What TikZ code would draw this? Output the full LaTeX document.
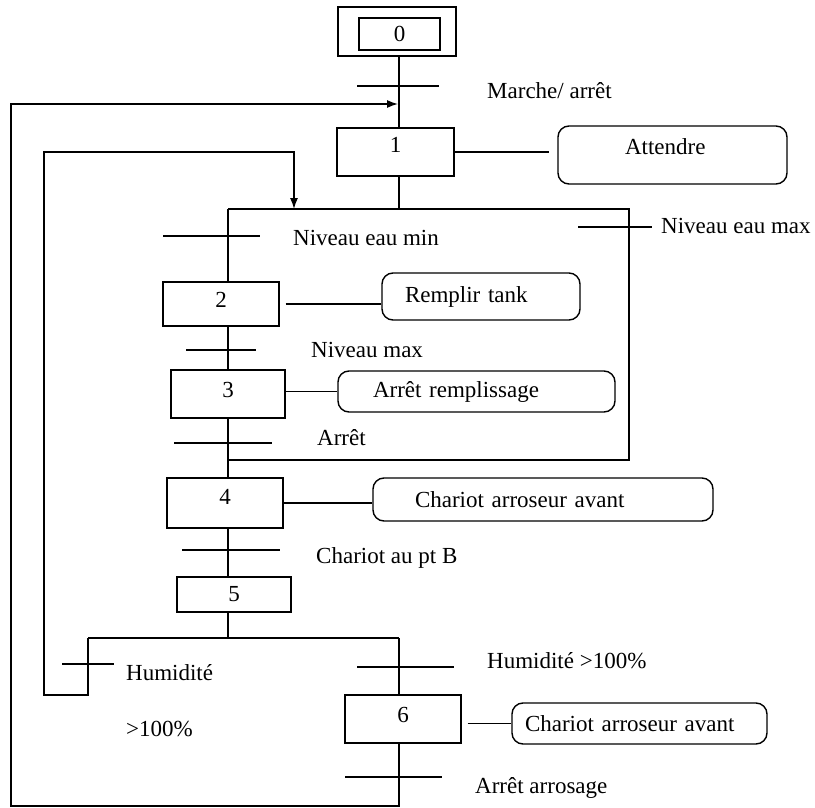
\documentclass[tikz,border=0pt]{standalone}
\usepackage{fontspec}
\setmainfont{Liberation Serif}
\usepackage{tikz}
\usetikzlibrary{arrows.meta}

\begin{document}
\begin{tikzpicture}[x=1pt, y=-1pt, line join=miter,
    every node/.style={font=\fontsize{23}{26}\selectfont},
    trait/.style={black, line width=1.4pt},
    etape/.style={draw, line width=1.4pt, inner sep=0pt},
    action/.style={draw, line width=1.4pt, rounded corners=11pt, align=left, inner ysep=0pt},
    recept/.style={anchor=base west, inner sep=0pt},
    retour/.style={trait, -{Latex[length=11pt, width=8pt]}}]

    \useasboundingbox (0,0) rectangle (815,808);

    % =======================================================
    % STEPS AND ACTIONS
    % =======================================================

    % 1. Initial step (double box)
    \node[etape, minimum width=118pt, minimum height=49pt] (s0o) at (397,31.5) {};
    \node[etape, minimum width=81pt, minimum height=32pt] (s0) at (399.5,34) {0};

    % 2. Other steps
    \node[etape, minimum width=117pt, minimum height=48pt, text depth=14pt] (s1) at (395.5,152) {1};
    \node[etape, minimum width=116pt, minimum height=44pt, text depth=8pt] (s2) at (221,304) {2};
    \node[etape, minimum width=114pt, minimum height=48pt, text depth=8pt] (s3) at (228,394) {3};
    \node[etape, minimum width=116pt, minimum height=50pt, text depth=12pt] (s4) at (225,503) {4};
    \node[etape, minimum width=114pt, minimum height=35pt] (s5) at (234,594.5) {5};
    \node[etape, minimum width=116pt, minimum height=48pt, text depth=9pt] (s6) at (403,719) {6};

    % 3. Actions (rounded boxes)
    \node[action, text width=95pt, inner xsep=67pt, minimum height=58pt, text depth=16pt] (a1) at (672.5,155) {Attendre};
    \node[action, text width=152pt, inner xsep=23pt, minimum height=47pt] (a2) at (481,296.5) {Remplir tank};
    \node[action, text width=207pt, inner xsep=35pt, minimum height=41pt] (a3) at (476.5,391.5) {Arrêt remplissage};
    \node[action, text width=256pt, inner xsep=42pt, minimum height=43pt] (a4) at (543,499.5) {Chariot arroseur avant};
    \node[action, text width=229pt, inner xsep=13pt, minimum height=41pt] (a6) at (639.5,723.5) {Chariot arroseur avant};

    % =======================================================
    % LINKS
    % =======================================================
    \coordinate (colA) at (399,0);
    \coordinate (colB) at (228,0);
    \coordinate (boxNW) at (228,209);
    \coordinate (boxSE) at (629,460);
    \coordinate (selL) at (88,638);
    \coordinate (retL) at (44,695);
    \coordinate (loopA) at (294,209);
    \coordinate (bas) at (11,806);
    \coordinate (loopB) at (398,104);

    % 4. Main column
    \draw[trait] (colA |- s0o.south) -- (colA |- s1.north);
    \draw[trait] (colA |- s1.south) -- (colA |- boxNW);
    \draw[trait] (boxNW) -- (boxNW -| boxSE) -- (boxSE) -- (boxSE -| boxNW);
    \draw[trait] (boxNW) -- (colB |- s2.north);
    \draw[trait] (colB |- s2.south) -- (colB |- s3.north);
    \draw[trait] (colB |- s3.south) -- (colB |- s4.north);
    \draw[trait] (colB |- s4.south) -- (colB |- s5.north);
    \draw[trait] (colB |- s5.south) -- (colB |- selL);

    % 5. Divergence
    \draw[trait] (selL) -- (colA |- selL);
    \draw[trait] (colA |- selL) -- (colA |- s6.north);

    % 6. Loop back arrows
    \draw[retour] (selL) -- (selL |- retL) -- (retL) -- (retL |- s1) -- (loopA |- s1) -- (loopA);
    \draw[retour] (colA |- s6.south) -- (colA |- bas) -- (bas) -- (bas |- loopB) -- (loopB);

    % 7. Step to action links
    \draw[trait, shorten >=8pt] (s1.east) -- (s1.east -| a1.west);
    \draw[trait] ([xshift=6pt]s2.east) -- (s2.east -| a2.west);
    \draw[trait] (a3.west -| s3.east) -- (a3.west);
    \draw[trait] (s4.east) -- (s4.east -| a4.west);
    \draw[trait] ([xshift=6pt]a6.west -| s6.east) -- (a6.west);

    % =======================================================
    % TRANSITIONS
    % =======================================================

    % 8. Bars
    \draw[trait] (357,86) -- (439,86);
    \draw[trait] (163,236) -- (260,236);
    \draw[trait] (578,227) -- (652,227);
    \draw[trait] (186,350) -- (256,350);
    \draw[trait] (174,443) -- (272,443);
    \draw[trait] (182,550) -- (280,550);
    \draw[trait] (62,664) -- (114,664);
    \draw[trait] (357,667) -- (454,667);
    \draw[trait] (345,777) -- (442,777);

    % 9. Receptivities
    \node[recept] (r1) at (487,99) {Marche/ arrêt};
    \node[recept] (r2) at (293,245) {Niveau eau min};
    \node[recept] (r2b) at (661,233) {Niveau eau max};
    \node[recept] (r3) at (311,357) {Niveau max};
    \node[recept] (r4) at (317,445) {Arrêt};
    \node[recept] (r5) at (316,563) {Chariot au pt B};
    \node[recept] (r6) at (126,680) {Humidité};
    \node[recept] (r6b) at (126,736) {>100\%};
    \node[recept] (r7) at (487,668) {Humidité >100\%};
    \node[recept] (r8) at (475,793) {Arrêt arrosage};

\end{tikzpicture}
\end{document}
